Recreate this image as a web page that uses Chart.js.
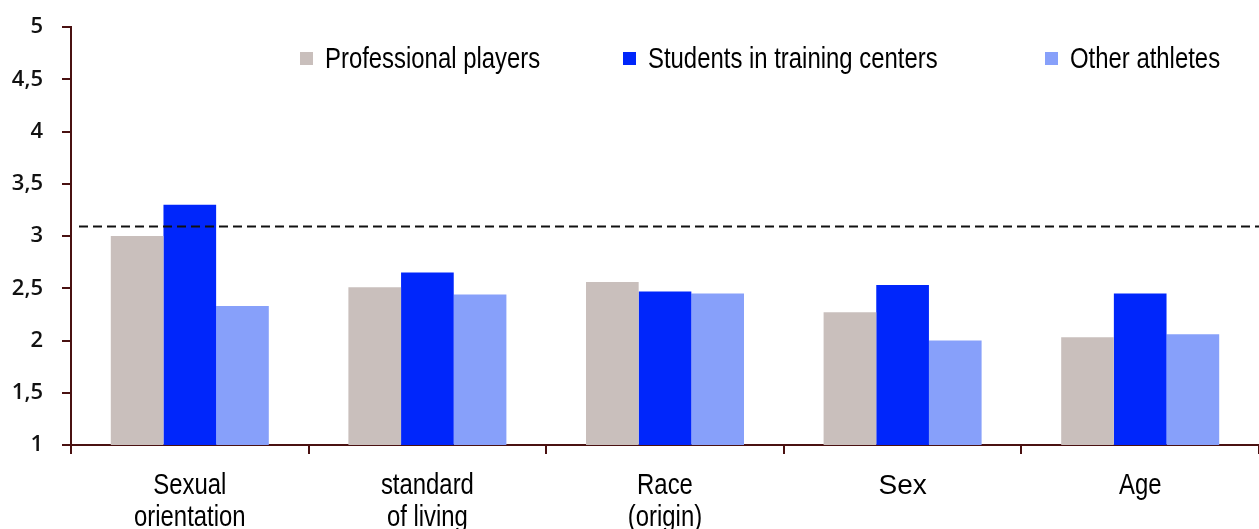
<!DOCTYPE html>
<html>
<head>
<meta charset="utf-8">
<script src="https://cdn.jsdelivr.net/npm/chart.js@4/dist/chart.umd.min.js"></script>
<style>
  html, body { margin: 0; padding: 0; background: #fff; }
  #wrap { width: 1259px; height: 529px; position: relative; }
</style>
</head>
<body>
<div id="wrap"><canvas id="chart"></canvas></div>
<script>
const categories = [["Sexual", "orientation"], ["standard", "of living"], ["Race", "(origin)"], ["Sex"], ["Age"]];
const seriesNames = ["Professional players", "Students in training centers", "Other athletes"];
const professional = [3.0, 2.51, 2.56, 2.27, 2.03];
const students = [3.3, 2.65, 2.47, 2.53, 2.45];
const others = [2.33, 2.44, 2.45, 2.0, 2.06];
const yTickLabels = ["1", "1,5", "2", "2,5", "3", "3,5", "4", "4,5", "5"];
const referenceValue = 3.09;

const colors = ["#c9bfbc", "#0026fb", "#87a0fa"];
const axisColor = "#4a1111";
const sans = "'Liberation Sans', Arial, sans-serif";

// the original uses a condensed Arial; squeeze regular Liberation Sans instead
function condensedText(ctx, text, x, y, size, squeeze) {
  ctx.save();
  ctx.font = `${size}px ${sans}`;
  ctx.translate(x, y);
  ctx.scale(squeeze, 1);
  ctx.fillText(text, 0, 0);
  ctx.restore();
}

const refLine = {
  id: "refLine",
  afterDatasetsDraw(chart) {
    const { ctx, scales } = chart;
    const y = scales.y.getPixelForValue(referenceValue);
    ctx.save();
    ctx.strokeStyle = "#111";
    ctx.lineWidth = 2;
    ctx.setLineDash([9, 5]);
    ctx.beginPath();
    ctx.moveTo(79, y);
    ctx.lineTo(chart.width, y);
    ctx.stroke();
    ctx.restore();
  },
};

const xLabels = {
  id: "xLabels",
  afterDraw(chart) {
    const { ctx, scales } = chart;
    ctx.save();
    ctx.fillStyle = "#000";
    ctx.textAlign = "center";
    ctx.textBaseline = "middle";
    chart.data.labels.forEach((lines, i) => {
      const x = scales.x.getPixelForTick(i);
      lines.forEach((line, j) => {
        const y = 486 + j * 32;
        if (line === "Sex") {
          condensedText(ctx, line, x, y, 28, 1);
        } else {
          condensedText(ctx, line, x, y, 29, 0.824);
        }
      });
    });
    ctx.restore();
  },
};

const boxLegend = {
  id: "boxLegend",
  afterDraw(chart) {
    const { ctx } = chart;
    const xs = [300, 623, 1045];
    ctx.save();
    ctx.textBaseline = "middle";
    ctx.textAlign = "left";
    chart.data.datasets.forEach((ds, i) => {
      ctx.fillStyle = ds.backgroundColor;
      ctx.fillRect(xs[i], 52, 13, 13);
      ctx.fillStyle = "#000";
      condensedText(ctx, ds.label, xs[i] + 25, 60, 29, 0.824);
    });
    ctx.restore();
  },
};

new Chart(document.getElementById("chart"), {
  type: "bar",
  data: {
    labels: categories,
    datasets: [
      { label: seriesNames[0], data: professional, backgroundColor: colors[0] },
      { label: seriesNames[1], data: students, backgroundColor: colors[1] },
      { label: seriesNames[2], data: others, backgroundColor: colors[2] },
    ],
  },
  options: {
    responsive: true,
    maintainAspectRatio: false,
    animation: false,
    layout: { padding: { top: 27, right: 0, left: 0, bottom: 0 } },
    datasets: { bar: { barPercentage: 1, categoryPercentage: 0.665 } },
    plugins: { legend: { display: false }, tooltip: { enabled: false } },
    scales: {
      x: {
        grid: { drawOnChartArea: false, drawTicks: true, tickLength: 9, color: axisColor, lineWidth: 2 },
        border: { color: axisColor, width: 2 },
        ticks: { display: false },
        afterFit(scale) { scale.height = 84; },
      },
      y: {
        min: 1,
        max: 5,
        grid: { drawOnChartArea: false, drawTicks: true, tickLength: 9, color: axisColor, lineWidth: 2 },
        border: { color: axisColor, width: 2 },
        ticks: {
          stepSize: 0.5,
          color: "#111",
          padding: 19,
          font: { family: "'Open Sans', sans-serif", size: 22, weight: "600" },
          callback: (value, index) => yTickLabels[index],
        },
        afterFit(scale) {
          scale.width = 71;
          // tick padding would otherwise push the plot top down
          scale.paddingTop = 0;
          scale.paddingBottom = 0;
        },
      },
    },
  },
  plugins: [refLine, xLabels, boxLegend],
});
</script>
</body>
</html>
